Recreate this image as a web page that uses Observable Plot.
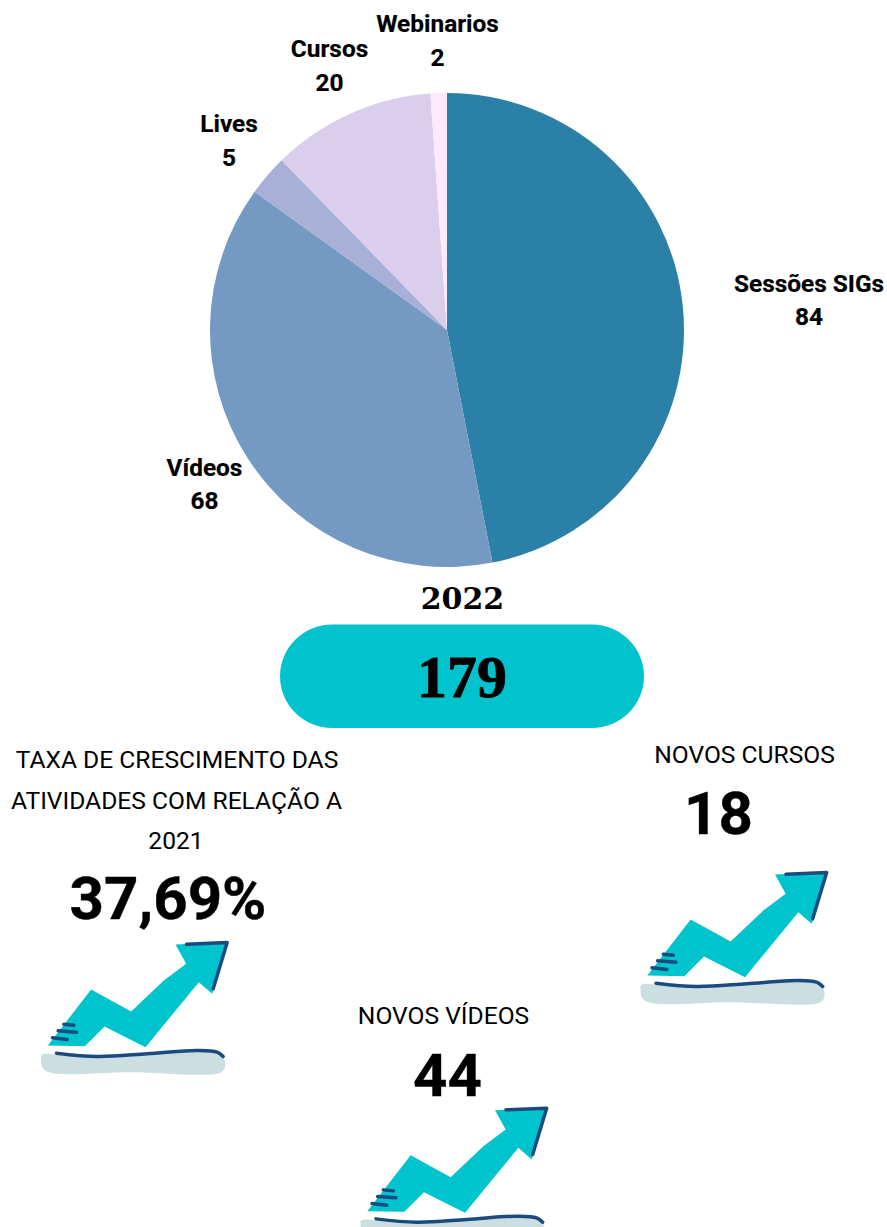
<!DOCTYPE html>
<html lang="pt">
<head>
<meta charset="utf-8">
<style>html,body{margin:0;padding:0;background:#fff;overflow:hidden}svg{display:block}</style>
<script src="https://cdn.jsdelivr.net/npm/d3@7"></script>
<script src="https://cdn.jsdelivr.net/npm/@observablehq/plot@0.6"></script>
</head>
<body>
<script>
// Data
const categories = ["Sessões SIGs", "Vídeos", "Lives", "Cursos", "Webinarios"];
const counts = [84, 68, 5, 20, 2];
const sliceColors = ["#2b80a7", "#7499c2", "#a9b0d7", "#d9cfec", "#fde9fb"];
const yearLabel = "2022";
const totalLabel = "179";
const growthTitle = ["TAXA DE CRESCIMENTO DAS", "ATIVIDADES COM RELAÇÃO A", "2021"];
const growthValue = "37,69%";
const newCoursesTitle = "NOVOS CURSOS";
const newCoursesValue = "18";
const newVideosTitle = "NOVOS VÍDEOS";
const newVideosValue = "44";

// Arrow pictogram outline (local units, 3 per pixel)
const arrowBody = [[435,42],[590,35],[545,190],[505,155],[345,350],[222,288],[163,347],[52,345],[182,177],[302,243],[400,150],[467,100]];
const arrowBand = [[34,373],[150,380],[350,372],[520,362],[574,376],[584,405],[572,425],[300,425],[60,427],[36,412],[32,390]];
const arrowStraightEdges = [
  [[468,41],[590,36],[548,175]],
  [[100,281],[130,284]],
  [[83,301],[138,305]],
  [[66,322],[110,327]]
];
const arrowBaseLine = [[78,368],[200,378],[350,370],[500,360],[560,365],[578,378]];

// Layout
const W = 887, H = 1227;
const pieCenter = {x: 447, y: 330, r: 237};
const labelAnchors = [[808.5,284,317],[204,468,501],[228.5,124,158],[329,49,83],[437,24,58]];
const icons = [[30,930],[349.5,1095.7],[629.5,860]];

const slices = categories.map((name, i) => ({name, value: counts[i]}));
const labelRows = categories.flatMap((name, i) => [
  {text: name, x: labelAnchors[i][0], y: labelAnchors[i][1]},
  {text: String(counts[i]), x: labelAnchors[i][0], y: labelAnchors[i][2]}
]);
const place = (o, p, k) => ({k, x: o[0] + p[0] / 3, y: o[1] + p[1] / 3});
const bodyPts = icons.flatMap((o, k) => arrowBody.map(p => place(o, p, k)));
const bandPts = icons.flatMap((o, k) => arrowBand.map(p => place(o, p, k)));
const basePts = icons.flatMap((o, k) => arrowBaseLine.map(p => place(o, p, k)));
const edgePts = icons.flatMap((o, k) => arrowStraightEdges.flatMap((e, j) => e.map(p => place(o, p, k + "-" + j))));

const sans = "Roboto, sans-serif";
const regularTexts = [
  {text: growthTitle[0], x: 176.5, y: 760},
  {text: growthTitle[1], x: 176, y: 801},
  {text: growthTitle[2], x: 175.5, y: 841},
  {text: newCoursesTitle, x: 744, y: 755},
  {text: newVideosTitle, x: 443, y: 1016}
];
const bigTexts = [
  {text: growthValue, x: 167.5, y: 899},
  {text: newCoursesValue, x: 718, y: 814},
  {text: newVideosValue, x: 447, y: 1076}
];

const pie = d3.pie().sort(null).value(d => d.value);

const chart = Plot.plot({
  width: W, height: H,
  margin: 0,
  x: {domain: [0, W], range: [0, W], axis: null},
  y: {domain: [0, H], range: [0, H], axis: null},
  color: {domain: categories, range: sliceColors},
  style: {background: "#fff"},
  marks: [
    Plot.dot(slices, {
      x: pieCenter.x, y: pieCenter.y, fill: "name",
      render(index, scales, values) {
        const arcs = pie(slices);
        const arc = d3.arc().innerRadius(0).outerRadius(pieCenter.r);
        const g = d3.create("svg:g")
          .attr("transform", `translate(${values.x[0]},${values.y[0]})`);
        g.selectAll("path").data(arcs).join("path")
          .attr("d", arc)
          .attr("fill", (d, i) => values.fill[i]);
        return g.node();
      }
    }),
    Plot.text(labelRows, {x: "x", y: "y", text: "text", fontFamily: sans, fontWeight: 700, fontSize: 24.4, fill: "#000", stroke: "#000", strokeWidth: 0.2, lineAnchor: "middle"}),
    Plot.text([yearLabel], {x: 462, y: 599, text: d => d, fontFamily: "'DejaVu Serif', serif", fontWeight: 700, fontSize: 30, fill: "#000", lineAnchor: "middle"}),
    Plot.rect([totalLabel], {x1: 280, x2: 644, y1: 624.5, y2: 728, rx: 52, fill: "#00c3ce"}),
    Plot.text([totalLabel], {x: 461.5, y: 677, text: d => d, fontFamily: "'Liberation Serif', serif", fontWeight: 700, fontSize: 60, fill: "#000", stroke: "#000", strokeWidth: 0.8, lineAnchor: "middle"}),
    Plot.text(regularTexts, {x: "x", y: "y", text: "text", fontFamily: sans, fontWeight: 400, fontSize: 24.6, fill: "#000", lineAnchor: "middle"}),
    Plot.text(bigTexts, {x: "x", y: "y", text: "text", fontFamily: sans, fontWeight: 700, fontSize: 60, fill: "#000", stroke: "#000", strokeWidth: 0.4, lineAnchor: "middle"}),
    Plot.line(bandPts, {x: "x", y: "y", z: "k", curve: "catmull-rom-closed", fill: "#cbdfe0", stroke: "none"}),
    Plot.line(bodyPts, {x: "x", y: "y", z: "k", curve: "linear-closed", fill: "#00c4cd", stroke: "none"}),
    Plot.line(edgePts, {x: "x", y: "y", z: "k", curve: "linear", stroke: "#1a4a80", strokeWidth: 3.5, strokeLinecap: "round", strokeLinejoin: "round", fill: "none"}),
    Plot.line(basePts, {x: "x", y: "y", z: "k", curve: "catmull-rom", stroke: "#1a4a80", strokeWidth: 3.5, strokeLinecap: "round", strokeLinejoin: "round", fill: "none"})
  ]
});
document.body.appendChild(chart);
</script>
</body>
</html>
